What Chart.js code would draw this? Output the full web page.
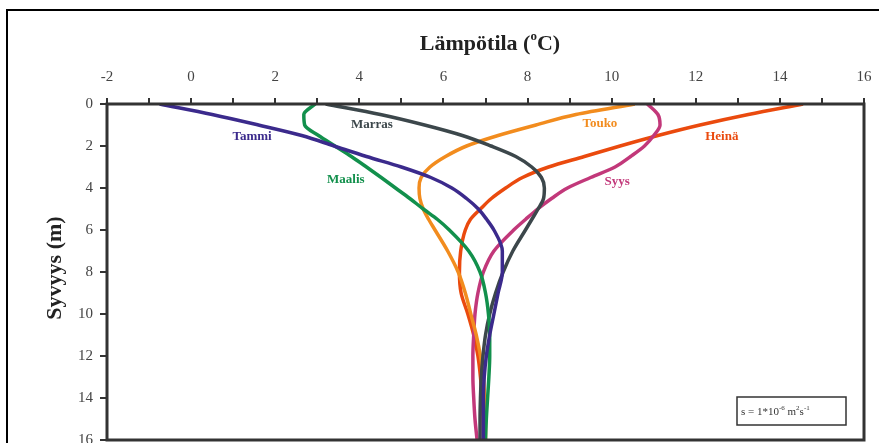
<!DOCTYPE html>
<html>
<head>
<meta charset="utf-8">
<script src="https://cdn.jsdelivr.net/npm/chart.js@4.4.1/dist/chart.umd.min.js"></script>
<style>
    html, body { margin: 0; padding: 0; background: #fff; overflow: hidden; }
    #frame { position: absolute; left: 6px; top: 9px; width: 1000px; height: 1000px; border: 2px solid #000; }
    #wrap { position: absolute; left: 0; top: 0; width: 879px; height: 443px; }
</style>
</head>
<body>
<div id="frame"></div>
<div id="wrap"><canvas id="profileChart" width="879" height="443"></canvas></div>
<script>
// depth (m) and temperature profiles (°C)
const depths = [0, 0.5, 1, 1.5, 2, 2.5, 3, 3.5, 4, 4.5, 5, 5.5, 6, 7, 8, 9, 10, 11, 12, 13, 14, 15, 16];

const tammi  = [-0.75, 0.5, 1.6, 2.63, 3.4, 4.17, 5.0, 5.7, 6.2, 6.55, 6.83, 7.03, 7.2, 7.4, 7.4, 7.3, 7.2, 7.1, 7.02, 6.97, 6.95, 6.95, 6.95];
const maalis = [2.95, 2.68, 2.7, 3.03, 3.42, 3.81, 4.17, 4.52, 4.86, 5.2, 5.52, 5.86, 6.14, 6.6, 6.87, 7.0, 7.07, 7.1, 7.1, 7.08, 7.05, 7.02, 7.0];
const marras = [3.2, 4.5, 5.55, 6.45, 7.13, 7.72, 8.1, 8.33, 8.4, 8.38, 8.25, 8.1, 7.95, 7.65, 7.42, 7.24, 7.1, 7.0, 6.94, 6.9, 6.88, 6.87, 6.87];
const touko  = [10.55, 9.15, 8.2, 7.3, 6.55, 6.05, 5.68, 5.47, 5.42, 5.44, 5.52, 5.65, 5.8, 6.1, 6.35, 6.52, 6.65, 6.78, 6.88, 6.95, 6.98, 7.0, 7.0];
const syys   = [10.85, 11.1, 11.15, 11.0, 10.78, 10.45, 10.08, 9.5, 8.95, 8.57, 8.24, 7.95, 7.67, 7.2, 6.95, 6.82, 6.75, 6.72, 6.7, 6.7, 6.72, 6.75, 6.8];
const heina  = [14.55, 13.25, 12.1, 11.1, 10.2, 9.35, 8.5, 7.88, 7.48, 7.14, 6.88, 6.64, 6.52, 6.41, 6.38, 6.42, 6.58, 6.72, 6.82, 6.88, 6.92, 6.94, 6.95];

const seriesNames = ['Tammi', 'Maalis', 'Marras', 'Touko', 'Syys', 'Heinä'];
const seriesTemps = [tammi, maalis, marras, touko, syys, heina];
const seriesColors = ['#3b2a8c', '#12904c', '#3c474b', '#f28c1e', '#c2387a', '#ea4a0e'];

// where each curve's name sits, in (temperature, depth)
const labelTemps  = [1.45, 3.68, 4.30, 9.72, 10.13, 12.62];
const labelDepths = [1.57, 3.62, 1.0, 0.95, 3.71, 1.57];

const tempTicks = [-2, 0, 2, 4, 6, 8, 10, 12, 14, 16];
const tempMinorTicks = [-2, -1, 0, 1, 2, 3, 4, 5, 6, 7, 8, 9, 10, 11, 12, 13, 14, 15, 16];
const depthTicks = [0, 2, 4, 6, 8, 10, 12, 14, 16];

const serif = "'Liberation Serif', 'DejaVu Serif', serif";

function drawRich(ctx, parts, x, y, size, weight) {
    // parts: [text, isSuperscript]; drawn left to right from x
    const supSize = Math.round(size * 0.6);
    let cx = x;
    parts.forEach(([t, sup]) => {
        ctx.font = weight + ' ' + (sup ? supSize : size) + 'px ' + serif;
        ctx.fillText(t, cx, sup ? y - size * 0.33 : y);
        cx += ctx.measureText(t).width;
    });
}

function richWidth(ctx, parts, size, weight) {
    const supSize = Math.round(size * 0.6);
    let w = 0;
    parts.forEach(([t, sup]) => {
        ctx.font = weight + ' ' + (sup ? supSize : size) + 'px ' + serif;
        w += ctx.measureText(t).width;
    });
    return w;
}

const textPlugin = {
    id: 'profileTexts',
    afterDraw(chart) {
        const ctx = chart.ctx;
        const a = chart.chartArea;
        const xs = chart.scales.x, ys = chart.scales.y;
        ctx.save();

        // plot box
        ctx.strokeStyle = '#333';
        ctx.lineWidth = 3;
        ctx.strokeRect(a.left, a.top, a.right - a.left, a.bottom - a.top);

        // axis titles
        ctx.fillStyle = '#222';
        ctx.textBaseline = 'middle';
        ctx.textAlign = 'left';
        const title = [['Lämpötila (', false], ['o', true], ['C)', false]];
        drawRich(ctx, title, 490 - richWidth(ctx, title, 22, 'bold') / 2, 44, 22, 'bold');

        ctx.save();
        ctx.translate(55, 268);
        ctx.rotate(-Math.PI / 2);
        ctx.textAlign = 'center';
        ctx.font = 'bold 22px ' + serif;
        ctx.fillText('Syvyys (m)', 0, 0);
        ctx.restore();

        // curve names
        ctx.textAlign = 'center';
        ctx.font = 'bold 13px ' + serif;
        seriesNames.forEach((name, i) => {
            ctx.fillStyle = seriesColors[i];
            ctx.fillText(name, xs.getPixelForValue(labelTemps[i]), ys.getPixelForValue(labelDepths[i]));
        });

        // diffusivity note
        const bx = a.right - 127, by = a.bottom - 43;
        ctx.strokeStyle = '#333';
        ctx.lineWidth = 1.5;
        ctx.strokeRect(bx, by, 109, 28);
        ctx.fillStyle = '#333';
        ctx.textAlign = 'left';
        drawRich(ctx, [['s = 1*10', false], ['-6', true], [' m', false], ['2', true], ['s', false], ['-1', true]], bx + 4, by + 15, 11, 'normal');

        ctx.restore();
    }
};

const datasets = seriesNames.map((name, i) => ({
    label: name,
    data: depths.map((d, j) => ({ x: seriesTemps[i][j], y: d })),
    borderColor: seriesColors[i],
    borderWidth: 3.5,
    pointRadius: 0,
    showLine: true,
    cubicInterpolationMode: 'monotone',
    fill: false
}));

new Chart(document.getElementById('profileChart').getContext('2d'), {
    type: 'scatter',
    data: { datasets },
    options: {
        indexAxis: 'y',
        responsive: false,
        animation: false,
        layout: { padding: { left: 0, top: 0, right: 15, bottom: 3 } },
        plugins: {
            legend: { display: false },
            tooltip: { enabled: false }
        },
        scales: {
            x: {
                type: 'linear',
                position: 'top',
                min: -2,
                max: 16,
                afterBuildTicks: (scale) => { scale.ticks = tempMinorTicks.map(v => ({ value: v })); },
                afterFit: (scale) => { scale.height = 104; scale.paddingLeft = 0; scale.paddingRight = 0; },
                border: { display: false },
                grid: { drawOnChartArea: false, drawTicks: true, tickLength: 6, color: '#333', lineWidth: 2 },
                ticks: {
                    padding: 12,
                    color: '#444',
                    font: { family: serif, size: 15 },
                    maxRotation: 0,
                    autoSkip: false,
                    callback: (v) => tempTicks.includes(v) ? String(v) : ''
                }
            },
            y: {
                type: 'linear',
                reverse: true,
                min: 0,
                max: 16,
                afterBuildTicks: (scale) => { scale.ticks = depthTicks.map(v => ({ value: v })); },
                afterFit: (scale) => { scale.width = 107; scale.paddingTop = 0; scale.paddingBottom = 0; },
                border: { display: false },
                grid: { drawOnChartArea: false, drawTicks: true, tickLength: 7, color: '#333', lineWidth: 2 },
                ticks: {
                    padding: 7,
                    color: '#444',
                    font: { family: serif, size: 15 },
                    autoSkip: false
                }
            }
        }
    },
    plugins: [textPlugin]
});
</script>
</body>
</html>
